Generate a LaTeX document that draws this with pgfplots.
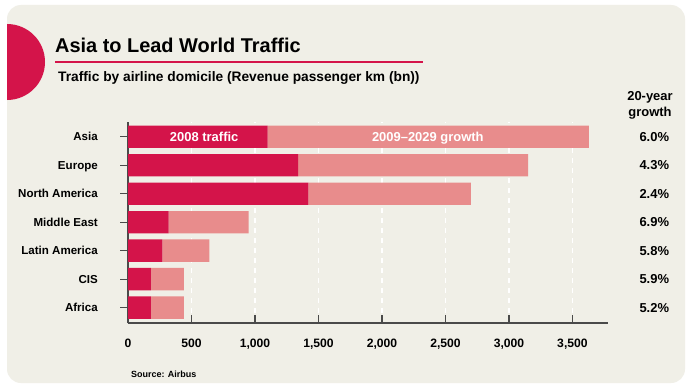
\documentclass[border=0pt]{standalone}
\usepackage{pgfplots}
\pgfplotsset{compat=1.18}
\usepackage{fontspec}
\setmainfont{Liberation Sans}
\definecolor{bg}{HTML}{F0EFE7}
\definecolor{dred}{HTML}{D4144A}
\definecolor{lpink}{HTML}{E88C8C}
\definecolor{axisgray}{HTML}{4A4A4A}
\begin{document}
\begin{tikzpicture}[x=1bp,y=1bp]
\useasboundingbox (0,0) rectangle (687,385);
\fill[white] (0,0) rectangle (687,385);
\fill[bg, rounded corners=14bp] (7,2) rectangle (685,380);
\begin{scope}
\clip (7,0) rectangle (200,385);
\fill[dred] (7,323) circle (38);
\end{scope}
\draw[dred, line width=1.2bp] (55,323) -- (423,323);
\node[anchor=base west, inner sep=0, font=\fontsize{20}{21}\selectfont\bfseries] at (55,332.7) {Asia to Lead World Traffic};
\node[anchor=base west, inner sep=0, font=\fontsize{13.8}{14}\selectfont\bfseries] at (58,303.5) {Traffic by airline domicile (Revenue passenger km (bn))};
\begin{axis}[at={(128bp,62bp)}, anchor=south west, scale only axis,
  width=480bp, height=201.3bp,
  xbar stacked, bar width=22.4bp,
  xmin=0, xmax=3780, ymin=-0.54, ymax=6.53,
  enlargelimits=false, clip=false,
  axis x line*=bottom, axis y line*=left,
  axis line style={-, axisgray, line width=1.3bp},
  xtick={0,500,1000,1500,2000,2500,3000,3500},
  scaled x ticks=false,
  ytick={0,1,2,3,4,5,6},
  yticklabels={Africa,CIS,Latin America,Middle East,North America,Europe,Asia},
  xtick align=inside, ytick align=outside,
  major tick length=8bp,
  tick style={axisgray, line width=1.3bp},
  xmajorgrids, grid style={white, line width=1.2bp, dash pattern=on 5bp off 5bp},
  /pgf/number format/.cd, 1000 sep={,}, assume math mode=true, /pgfplots/.cd,
  tick label style={inner sep=0pt},
  xticklabel style={font=\fontsize{12.2}{13}\selectfont\bfseries, anchor=base, yshift=-24.3bp},
  yticklabel style={font=\fontsize{11.6}{13}\selectfont\bfseries, anchor=base east, xshift=-22bp, yshift=-4.2bp},
]
\addplot[fill=dred, draw=none] coordinates {(180,0) (180,1) (270,2) (320,3) (1420,4) (1340,5) (1100,6)};
\addplot[fill=lpink, draw=none] coordinates {(260,0) (260,1) (370,2) (630,3) (1280,4) (1810,5) (2530,6)};
\coordinate (lab1) at (axis cs:600,6);
\coordinate (lab2) at (axis cs:1920,6);
\coordinate (p6) at (axis cs:4262,6);
\coordinate (p5) at (axis cs:4262,5);
\coordinate (p4) at (axis cs:4262,4);
\coordinate (p3) at (axis cs:4262,3);
\coordinate (p2) at (axis cs:4262,2);
\coordinate (p1) at (axis cs:4262,1);
\coordinate (p0) at (axis cs:4262,0);
\end{axis}
\begin{scope}[every node/.style={inner sep=0, font=\fontsize{13}{14}\selectfont\bfseries, yshift=-4.6bp}]
\node[anchor=base, text=white] at (lab1) {2008 traffic};
\node[anchor=base west, text=white] at (lab2) {2009--2029 growth};
\node[anchor=base east] at (p6) {6.0\%};
\node[anchor=base east] at (p5) {4.3\%};
\node[anchor=base east] at (p4) {2.4\%};
\node[anchor=base east] at (p3) {6.9\%};
\node[anchor=base east] at (p2) {5.8\%};
\node[anchor=base east] at (p1) {5.9\%};
\node[anchor=base east] at (p0) {5.2\%};
\end{scope}
\node[anchor=base, inner sep=0, font=\fontsize{13}{14}\selectfont\bfseries] at (650,284.3) {20-year};
\node[anchor=base, inner sep=0, font=\fontsize{13}{14}\selectfont\bfseries] at (650,268.5) {growth};
\node[anchor=base west, inner sep=0, font=\fontsize{9}{10}\selectfont\bfseries] at (131,8) {Source: Airbus};
\end{tikzpicture}
\end{document}
